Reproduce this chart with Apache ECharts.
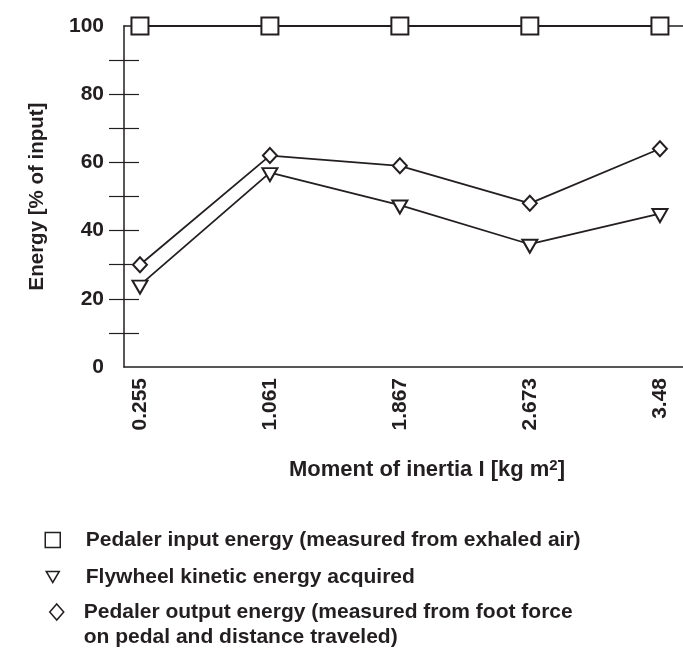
<!DOCTYPE html>
<html>
<head>
<meta charset="utf-8">
<style>
  html, body { margin: 0; padding: 0; background: #fff; }
  #chart { width: 683px; height: 654px; }
</style>
<script src="https://cdn.jsdelivr.net/npm/echarts@6/dist/echarts.min.js"></script>
</head>
<body>
<div id="chart"></div>
<script>
// Moment of inertia of the flywheel, kg m^2
const moments = [0.255, 1.061, 1.867, 2.673, 3.48];
// Energy as a percentage of pedaler input
const inputEnergy = [100, 100, 100, 100, 100];
const flywheelEnergy = [24, 57, 47.5, 36, 45];
const outputEnergy = [30, 62, 59, 48, 64];
// Axis labels
const yLabelValues = [0, 20, 40, 60, 80, 100];
const yTickValues = [10, 20, 30, 40, 50, 60, 70, 80, 90];

const INK = '#231f20';
const FONT = '"Liberation Sans", Arial, sans-serif';

const NAME_INPUT = 'Pedaler input energy (measured from exhaled air)';
const NAME_FLY = 'Flywheel kinetic energy acquired';
const NAME_OUT = 'Pedaler output energy (measured from foot force on pedal and distance traveled)';

const pairs = vals => moments.map((m, i) => [m, vals[i]]);

const textBase = { color: INK, fontFamily: FONT, fontWeight: 'bold', fontSize: 21 };
const emptyIcon = { color: '#fff', borderColor: INK, borderWidth: 1.5 };

const chart = echarts.init(document.getElementById('chart'), null, { renderer: 'canvas' });

chart.setOption({
  backgroundColor: '#fff',
  animation: false,
  grid: [
    { left: 124, right: 0, top: 26, height: 341 },
    // second grid only carries the right-hand half of the crossing ticks
    { left: 139, right: 0, top: 26, height: 341 }
  ],
  xAxis: [
    {
      type: 'value', gridIndex: 0, position: 'bottom',
      min: 0.156, max: 3.623,
      axisLine: { show: true, lineStyle: { color: INK, width: 1.5 } },
      axisTick: { show: false },
      splitLine: { show: false },
      axisLabel: {
        customValues: moments,
        rotate: 90, margin: 11,
        formatter: v => String(v),
        ...textBase
      },
      name: 'Moment of inertia I [kg m{sup|2}]',
      nameLocation: 'middle',
      nameGap: 91,
      nameTextStyle: {
        ...textBase,
        fontSize: 22,
        lineHeight: 24,
        padding: [0, 0, 0, 47],
        rich: {
          sup: { fontSize: 15, fontWeight: 'bold', fontFamily: FONT, color: INK, verticalAlign: 'top', lineHeight: 14 }
        }
      }
    },
    {
      type: 'value', gridIndex: 0, position: 'top',
      min: 0.156, max: 3.623,
      axisLine: { show: true, lineStyle: { color: INK, width: 1.5 } },
      axisTick: { show: false }, axisLabel: { show: false }, splitLine: { show: false }
    },
    { type: 'value', gridIndex: 1, show: false, min: 0, max: 1 }
  ],
  yAxis: [
    {
      type: 'value', gridIndex: 0,
      min: 0, max: 100, interval: 10,
      axisLine: { show: true, lineStyle: { color: INK, width: 1.5 } },
      axisTick: { show: true, customValues: yTickValues, length: 15, lineStyle: { color: INK, width: 1.2 } },
      splitLine: { show: false },
      axisLabel: { customValues: yLabelValues, margin: 20, ...textBase },
      name: 'Energy [% of input]',
      nameLocation: 'middle',
      nameGap: 76,
      nameTextStyle: { ...textBase, fontSize: 20.5 }
    },
    {
      type: 'value', gridIndex: 1, position: 'left',
      min: 0, max: 100, interval: 10,
      axisLine: { show: true, onZero: false, lineStyle: { color: INK, width: 1, opacity: 0 } },
      axisTick: { show: true, inside: false, customValues: yTickValues, length: 15, lineStyle: { color: INK, width: 1.2 } },
      axisLabel: { show: false },
      splitLine: { show: false }
    }
  ],
  legend: [
    {
      left: 44.5, top: 528, padding: 0, orient: 'vertical', selectedMode: false,
      itemWidth: 56, itemHeight: 15,
      textStyle: { ...textBase, lineHeight: 24 },
      data: [{ name: NAME_INPUT, icon: 'path://M0,0L15,0L15,15L0,15Z', itemStyle: emptyIcon }]
    },
    {
      left: 45.5, top: 565, padding: 0, orient: 'vertical', selectedMode: false,
      itemWidth: 56, itemHeight: 11,
      textStyle: { ...textBase, lineHeight: 24 },
      data: [{ name: NAME_FLY, icon: 'path://M0,0L13,0L6.5,11Z', itemStyle: emptyIcon }]
    },
    {
      left: 49, top: 574.5, padding: 0, orient: 'vertical', selectedMode: false,
      itemWidth: 44, itemHeight: 16,
      // a blank first line keeps the symbol level with the first text line
      formatter: n => '\u00a0\n' + n.replace(' on pedal', '\non pedal'),
      textStyle: { ...textBase, lineHeight: 25 },
      data: [{ name: NAME_OUT, icon: 'path://M7,0L14,8L7,16L0,8Z', itemStyle: emptyIcon }]
    }
  ],
  series: [
    {
      name: NAME_INPUT, type: 'line', xAxisIndex: 0, yAxisIndex: 0,
      data: pairs(inputEnergy),
      symbol: 'emptyRect', symbolSize: 17,
      lineStyle: { color: INK, width: 1.8 },
      itemStyle: { color: INK, borderColor: INK, borderWidth: 1.6 }
    },
    {
      name: NAME_FLY, type: 'line', xAxisIndex: 0, yAxisIndex: 0,
      data: pairs(flywheelEnergy),
      symbol: 'emptyTriangle', symbolSize: [15, 13], symbolRotate: 180, symbolOffset: [0, 2],
      lineStyle: { color: INK, width: 1.8 },
      itemStyle: { color: INK, borderColor: INK, borderWidth: 1.6 }
    },
    {
      name: NAME_OUT, type: 'line', xAxisIndex: 0, yAxisIndex: 0,
      data: pairs(outputEnergy),
      symbol: 'emptyDiamond', symbolSize: [14, 15],
      lineStyle: { color: INK, width: 1.8 },
      itemStyle: { color: INK, borderColor: INK, borderWidth: 1.6 }
    }
  ]
});
</script>
</body>
</html>
